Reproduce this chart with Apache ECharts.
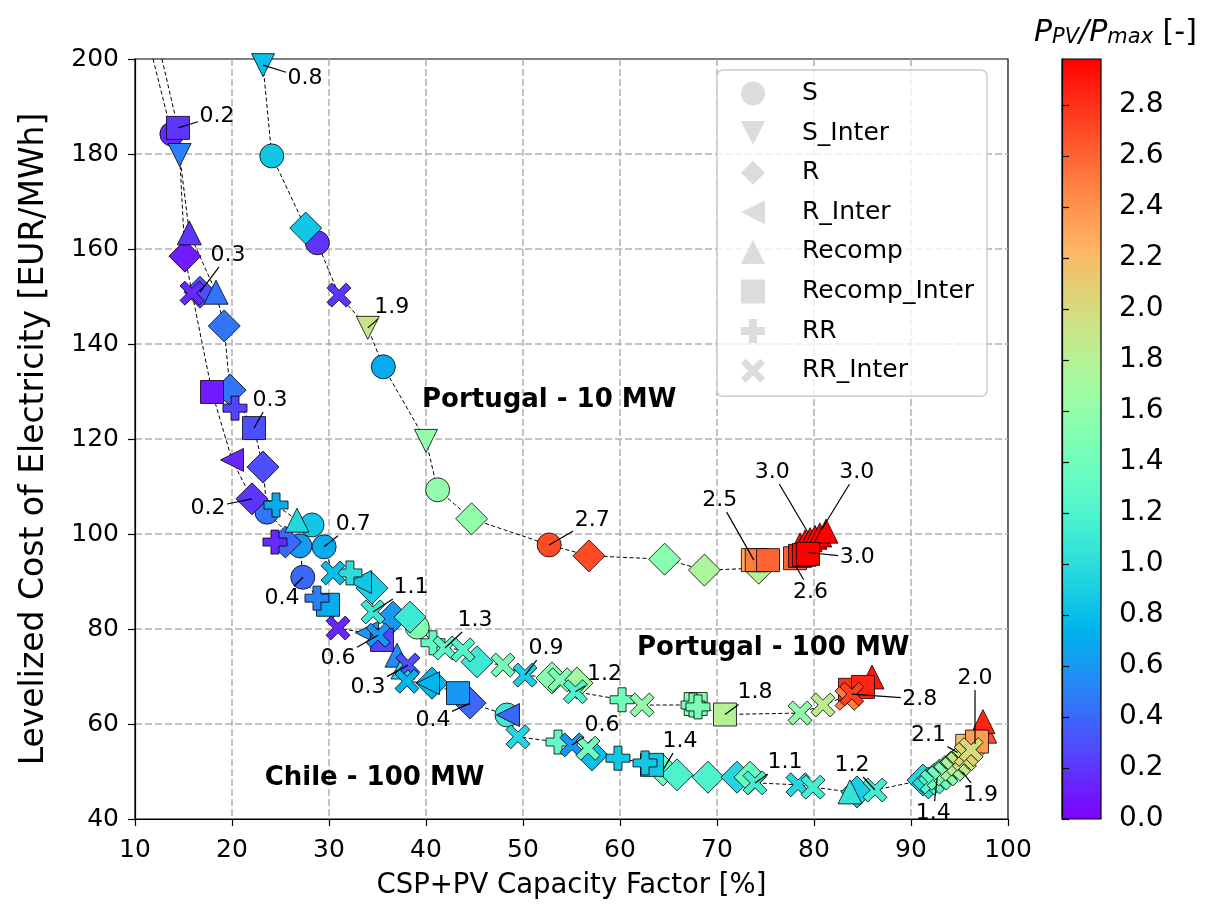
<!DOCTYPE html>
<html><head><meta charset="utf-8">
<script src="https://cdn.jsdelivr.net/npm/echarts@6/dist/echarts.min.js"></script>
<style>html,body{margin:0;padding:0;background:#fff}#c{width:1207px;height:911px}</style>
</head><body><div id="c"></div>
<script>
// ---------------- DATA ----------------
// each point: [CSP+PV capacity factor %, LCOE EUR/MWh, P_PV/P_max]
const configNames = ['S','S_Inter','R','R_Inter','Recomp','Recomp_Inter','RR','RR_Inter'];
const S = [
 [24.1,179.6,0.85],[28.8,161.3,0.2],[35.6,135.2,0.7],[41.2,109.3,1.6],[52.7,97.7,2.7],
 [13.8,184.2,0.15],[23.6,104.6,0.45],[27.0,97.5,0.6],[28.25,101.9,0.85],[29.5,97.3,0.7],[27.3,90.9,0.4],[39.1,80.4,1.5],[48.35,61.9,1.1]
];
const S_Inter = [[23.2,198.7,0.8],[34.0,143.4,1.9],[40.0,119.6,1.6],[14.6,179.8,0.5]];
const R = [
 [27.6,164.4,0.85],[44.7,103.2,1.6],[56.8,95.4,2.7],[64.6,94.7,1.55],[68.7,92.4,1.75],[74.3,92.8,1.8],
 [15.15,158.5,0.1],[16.7,150.9,0.3],[19.2,143.8,0.45],[19.8,130.3,0.45],[23.2,114.1,0.3],[22.06,107.4,0.2],[25.5,98.3,0.4],
 [34.43,88.6,0.9],[36.6,82.5,0.6],[38.35,82.5,1.1],[45.26,73.1,1.1],[52.99,69.7,1.55],[55.57,68.6,1.7],
 [44.54,64.4,0.4],[40.62,68.6,0.75],[57.11,53.5,0.8],[64.43,50.3,1.4],[65.88,49.3,1.2],[69.07,48.8,1.2],[72.06,48.8,0.95],[73.4,48.8,1.35],[84.43,45.7,0.9],
 [91.24,48.2,0.95],[91.8,47.6,1.0],[92.4,48.4,1.2],[92.9,49.2,1.35],[93.5,50.0,1.5],[94.1,50.9,1.6],[94.7,51.8,1.7],[95.3,52.8,1.8],[95.9,53.8,1.9]
];
const R_Inter = [[20.0,115.6,0.15],[33.2,89.9,0.85],[33.92,79.2,0.6],[40.21,68.6,0.75],[48.45,61.9,0.4]];
const Recomp = [
 [15.6,163.4,0.2],[18.35,150.9,0.45],[26.7,102.9,0.95],[37.01,74.5,0.55],[37.63,72.0,0.95],[83.71,45.7,1.05],[85.98,69.9,2.9],
 [78.56,97.7,2.95],[79.07,98.3,2.96],[79.6,98.8,2.97],[80.1,99.3,2.97],[80.6,99.8,2.98],[81.24,100.6,2.98],
 [97.6,58.5,2.7],[97.42,60.5,2.85]
];
const Recomp_Inter = [
 [14.43,185.5,0.2],[17.94,129.9,0.1],[22.27,122.3,0.3],[29.9,85.1,0.7],[35.46,77.7,0.25],[43.3,66.5,0.6],[63.3,51.4,0.85],
 [67.8,64.2,1.5],[70.82,62.0,1.8],[83.71,67.2,2.8],[85.05,67.8,2.85],
 [73.7,94.5,2.3],[74.1,94.5,2.5],[75.26,94.5,2.6],[78.04,94.9,2.6],[78.56,95.4,2.9],[78.97,95.6,2.95],[79.38,95.8,2.98],
 [95.8,55.4,2.15],[96.8,56.3,2.35]
];
const RR = [
 [20.31,126.5,0.25],[24.54,106.1,0.7],[24.43,98.3,0.15],[28.76,86.5,0.5],[32.16,91.8,1.0],[40.72,77.1,1.3],
 [53.61,56.2,1.3],[59.79,52.8,0.85],[62.58,51.8,0.85],[60.21,65.1,1.4],[67.53,64.0,1.45],[68.04,63.6,1.45]
];
const RR_Inter = [
 [31.03,150.3,0.2],[15.88,150.7,0.15],
 [30.41,91.8,0.8],[34.54,83.6,1.1],[30.93,80.2,0.15],[35.05,78.7,0.6],[38.14,72.4,0.3],[38.04,69.0,0.75],
 [41.96,76.0,1.3],[43.81,75.6,1.25],[47.94,72.4,1.45],[50.21,70.3,0.9],[53.81,69.3,1.5],[55.4,66.8,1.2],[62.27,64.0,1.6],
 [78.56,62.3,1.6],[80.93,64.0,1.85],[83.4,65.4,2.5],[83.9,66.3,2.75],
 [49.48,57.3,0.95],[55.05,55.6,0.6],[56.7,54.9,1.4],[73.92,47.6,1.15],[78.35,47.2,0.95],[79.9,46.7,1.15],[86.29,46.1,1.15],
 [92.2,47.8,1.25],[92.9,48.6,1.4],[93.6,49.5,1.55],[94.3,50.5,1.7],[94.9,51.6,1.85],[95.5,52.7,1.95],[95.7,53.6,2.05],[96.2,54.6,2.0]
];
const frontPortugal10 = [[23.2,198.7],[24.1,179.6],[27.6,164.4],[28.8,161.3],[31.03,150.3],[34.0,143.4],[35.6,135.2],[40.0,119.6],[41.2,109.3],[44.7,103.2],[52.7,97.7],[56.8,95.4],[64.6,94.7],[68.7,92.4],[74.3,92.8],[75.26,94.5]];
const frontPortugal100 = [[11.86,200],[13.8,184.2],[14.6,179.8],[15.15,158.5],[15.88,150.7],[17.94,129.9],[20.0,115.6],[22.06,107.4],[24.54,106.1],[26.7,102.9],[28.25,101.9],[29.5,97.3],[30.41,91.8],[32.16,91.8],[33.2,89.9],[34.43,88.6],[34.54,83.6],[38.35,82.5],[40.72,77.1],[41.96,76.0],[43.81,75.6],[45.26,73.1],[47.94,72.4],[50.21,70.3],[52.99,69.7],[55.4,66.8],[60.21,65.1],[62.27,64.0],[67.53,64.0],[70.82,62.0],[78.56,62.3],[80.93,64.0],[83.9,66.3],[85.05,67.8],[85.98,69.9]];
const frontChile = [[12.78,200],[14.43,185.5],[14.6,179.8],[15.6,163.4],[18.35,150.9],[19.18,143.8],[19.79,130.3],[22.27,122.3],[23.2,114.1],[23.61,104.6],[27.01,97.5],[27.32,90.9],[28.76,86.5],[29.9,85.1],[30.93,80.2],[35.05,78.7],[37.01,74.5],[38.04,69.0],[40.21,68.6],[43.3,66.5],[44.54,64.4],[48.35,61.9],[49.48,57.3],[53.61,56.2],[55.05,55.6],[57.11,53.5],[59.79,52.8],[62.58,51.8],[64.43,50.3],[65.88,49.3],[69.07,48.8],[72.06,48.8],[73.92,47.6],[78.35,47.2],[79.9,46.7],[83.71,45.7],[86.29,46.1],[91.24,48.2],[92.9,48.6],[94.3,50.5],[95.5,52.7],[96.8,56.3],[97.42,60.5]];
const caseNames = ['Portugal - 10 MW','Portugal - 100 MW','Chile - 100 MW'];
const casePos = [[52.7,128.2],[75.8,76.0],[34.7,48.6]];
const annotText = ['0.8','0.2','0.3','1.9','0.3','0.2','0.7','0.4','1.1','1.3','0.9','1.2','0.6','0.3','0.4','0.6','1.4','1.1','1.2','1.4','1.9','2.1','2.0','2.8','1.8','2.7','2.5','3.0','3.0','3.0','2.6'];
const annotTarget = [[23.2,198.7],[14.43,185.5],[16.7,150.9],[34.0,143.4],[22.27,122.3],[22.06,107.4],[29.5,97.3],[27.32,90.9],[34.54,83.6],[41.96,76.0],[50.21,70.3],[55.4,66.8],[35.05,78.7],[38.14,72.4],[44.54,64.4],[55.05,55.6],[64.43,50.3],[73.92,47.6],[86.29,46.1],[92.7,48.6],[95.3,49.9],[94.8,54.0],[96.6,55.8],[83.9,66.3],[70.82,62.0],[52.7,97.7],[73.8,94.5],[79.4,100.2],[80.8,101.0],[79.4,96.1],[78.1,93.3]];
const xTicks = {min:10, max:100, step:10};
const yTicks = {min:40, max:200, step:20};
const colorbarTicks = [0.0,0.2,0.4,0.6,0.8,1.0,1.2,1.4,1.6,1.8,2.0,2.2,2.4,2.6,2.8];
const PV_MAX = 2.98;

// ---------------- LAYOUT / STYLE ----------------
const annotOffset = [[42,13],[39,-12],[28,-37],[24,-21],[16,-28],[-44,9],[29,-23],[-21,21],[38,-25],[30,-28],[21,-27],[29,-17],[-40,23],[-40,22],[-37,17],[30,-20],[17,-29],[30,-21],[-23,-25],[-4,35],[18,23],[-29,-17],[0,-66],[68,5],[30,-22],[43,-25],[-34,-60],[-36,-61],[35,-57],[49,5],[15,26]];
const FONT = '"DejaVu Sans", sans-serif';
function rainbow(t){
  const r=Math.min(1,Math.abs(2*t-0.5)), g=Math.sin(Math.PI*t), b=Math.cos(Math.PI*t/2);
  return 'rgb('+Math.round(r*255)+','+Math.round(g*255)+','+Math.round(Math.max(0,b)*255)+')';
}
const stops=[]; for(let i=0;i<=20;i++) stops.push(i/20);
const rainbowColors = stops.map(rainbow);
const symbols = {
  'S':'circle',
  'S_Inter':'path://M0,0 L2,0 L1,2 Z',
  'R':'diamond',
  'R_Inter':'path://M0,1 L2,0 L2,2 Z',
  'Recomp':'path://M1,0 L2,2 L0,2 Z',
  'Recomp_Inter':'rect',
  'RR':'path://M2,0 H4 V2 H6 V4 H4 V6 H2 V4 H0 V2 H2 Z',
  'RR_Inter':'path://M0,2 L2,0 L5,3 L8,0 L10,2 L7,5 L10,8 L8,10 L5,7 L2,10 L0,8 L3,5 Z'
};
const sizes = {'S':24,'S_Inter':23,'R':32,'R_Inter':23,'Recomp':24,'Recomp_Inter':23,'RR':24,'RR_Inter':24};
const configData = {S, S_Inter, R, R_Inter, Recomp, Recomp_Inter, RR, RR_Inter};

const series = [];
[frontPortugal10, frontPortugal100, frontChile].forEach((f,i)=>{
  series.push({type:'line', name:'front'+i, data:f, symbol:'none', silent:true, z:2,
    lineStyle:{color:'#000', width:1, type:[4,2.5]}, xAxisIndex:0, yAxisIndex:0});
});
configNames.forEach(n=>{
  series.push({type:'scatter', name:n, data:configData[n], symbol:symbols[n], symbolSize:sizes[n], z:3,
    xAxisIndex:0, yAxisIndex:0,
    itemStyle:{borderColor:'#000', borderWidth:0.8, opacity:1}});
});
series.push({type:'custom', name:'annot', coordinateSystem:'cartesian2d', xAxisIndex:0, yAxisIndex:0, z:5, silent:true,
  data: annotTarget.map((t,i)=>[t[0],t[1],i]),
  renderItem:function(params, api){
    const i = api.value(2);
    const p = api.coord([api.value(0), api.value(1)]);
    const off = annotOffset[i];
    const cx=p[0]+off[0], cy=p[1]+off[1];
    const hw=19, hh=12;
    const dx=p[0]-cx, dy=p[1]-cy;
    let t=Math.min(dx!==0?hw/Math.abs(dx):Infinity, dy!==0?hh/Math.abs(dy):Infinity);
    t=Math.min(t,1);
    const sx=cx+dx*t, sy=cy+dy*t;
    return {type:'group', children:[
      {type:'line', shape:{x1:sx,y1:sy,x2:p[0],y2:p[1]}, style:{stroke:'#000', lineWidth:1.2}},
      {type:'text', style:{text:annotText[i], x:cx, y:cy, align:'center', verticalAlign:'middle', fontSize:22, fontFamily:FONT, fill:'#000'}}
    ]};
  }
});
series.push({type:'custom', name:'cases', coordinateSystem:'cartesian2d', xAxisIndex:0, yAxisIndex:0, z:4, silent:true,
  data: casePos.map((p,i)=>[p[0],p[1],i]),
  renderItem:function(params, api){
    const i=api.value(2);
    const p=api.coord([api.value(0), api.value(1)]);
    return {type:'text', style:{text:caseNames[i], x:p[0], y:p[1], align:'center', verticalAlign:'middle', fontSize:26, fontWeight:'bold', fontFamily:FONT, fill:'#000'}};
  }
});

const chart = echarts.init(document.getElementById('c'), null, {renderer:'canvas'});
const axisCommon = {
  axisLine:{show:true, lineStyle:{color:'#000', width:1.2}},
  axisTick:{show:true, length:7, lineStyle:{color:'#000', width:1.2}},
  splitLine:{show:true, showMinLine:false, showMaxLine:false, lineStyle:{color:'#b0b0b0', width:1.5, type:[7,3]}},
};
chart.setOption({
  animation:false,
  textStyle:{fontFamily:FONT, color:'#000'},
  title:{text:'{i|P}{s|PV}{i|/P}{s|max}{n| [-]}', left:1029, top:1,
    textStyle:{fontWeight:'normal', rich:{
      i:{fontSize:30, fontStyle:'italic', fontWeight:'normal', fontFamily:FONT, color:'#000', lineHeight:42, verticalAlign:'bottom'},
      s:{fontSize:21, fontStyle:'italic', fontWeight:'normal', fontFamily:FONT, color:'#000', lineHeight:23, verticalAlign:'bottom'},
      n:{fontSize:30, fontWeight:'normal', fontFamily:FONT, color:'#000', lineHeight:42, verticalAlign:'bottom'}
    }}},
  grid:[
    {left:135, right:199, top:59, bottom:92, show:true, borderColor:'#000', borderWidth:1.2, backgroundColor:'rgba(0,0,0,0)'},
    {left:1062, width:39, top:59, height:760, show:true, borderColor:'#000', borderWidth:1.2,
      backgroundColor:new echarts.graphic.LinearGradient(0,1,0,0, stops.map((s,i)=>({offset:s, color:rainbowColors[i]})))}
  ],
  xAxis:[
    Object.assign({gridIndex:0, type:'value', min:xTicks.min, max:xTicks.max, interval:xTicks.step,
      name:'CSP+PV Capacity Factor [%]', nameLocation:'middle', nameGap:53,
      nameTextStyle:{fontSize:27.5, color:'#000', fontFamily:FONT},
      axisLabel:{fontSize:25, color:'#000', margin:19, fontFamily:FONT}}, axisCommon),
    {gridIndex:1, type:'value', min:0, max:1, show:false}
  ],
  yAxis:[
    Object.assign({gridIndex:0, type:'value', min:yTicks.min, max:yTicks.max, interval:yTicks.step,
      name:'Levelized Cost of Electricity [EUR/MWh]', nameLocation:'middle', nameGap:84,
      nameTextStyle:{fontSize:33, color:'#000', fontFamily:FONT},
      axisLabel:{fontSize:25, color:'#000', margin:16, fontFamily:FONT}}, axisCommon),
    {gridIndex:1, type:'value', position:'right', min:0, max:PV_MAX,
      axisLine:{show:true, lineStyle:{color:'#000', width:1.2}},
      axisTick:{show:true, length:7, lineStyle:{color:'#000', width:1.2}, customValues:colorbarTicks},
      axisLabel:{fontSize:28, color:'#000', margin:18, fontFamily:FONT, customValues:colorbarTicks, formatter:v=>Number(v).toFixed(1)},
      splitLine:{show:false}}
  ],
  visualMap:{type:'continuous', show:false, min:0, max:PV_MAX, dimension:2, seriesIndex:[3,4,5,6,7,8,9,10],
    inRange:{color:rainbowColors}},
  legend:{orient:'vertical', left:717, top:70, padding:[11,13,13,24],
    itemWidth:24, itemHeight:24, itemGap:14.6,
    backgroundColor:'rgba(255,255,255,0.8)', borderColor:'#cccccc', borderWidth:1.5, borderRadius:6,
    textStyle:{fontSize:25, color:'#000', fontFamily:FONT, padding:[0,0,0,32]},
    selectedMode:false,
    data: configNames.map(n=>({name:n, icon:symbols[n], itemStyle:{color:'#dcdcdc', borderWidth:0}}))},
  series: series
});
</script></body></html>
